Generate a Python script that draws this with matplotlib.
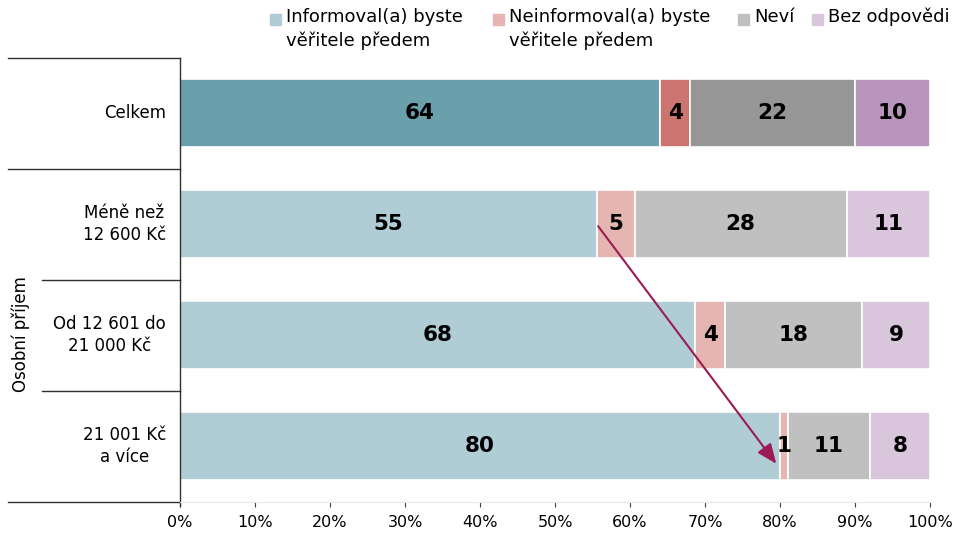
import matplotlib
matplotlib.use("Agg")
import matplotlib.pyplot as plt
import matplotlib.transforms as mtransforms
from matplotlib.patches import Rectangle
import numpy as np

plt.rcParams['font.family'] = ['DejaVu Sans']

categories = ["Celkem", "Méně než\n12 600 Kč", "Od 12 601 do\n21 000 Kč", "21 001 Kč\na více"]
series = ["Informoval(a) byste\nvěřitele předem", "Neinformoval(a) byste\nvěřitele předem", "Neví", "Bez odpovědi"]
informoval = [64, 55, 68, 80]
neinformoval = [4, 5, 4, 1]
nevi = [22, 28, 18, 11]
bez_odpovedi = [10, 11, 9, 8]
ticks = [0, 10, 20, 30, 40, 50, 60, 70, 80, 90, 100]
tick_labels = [f"{t}%" for t in ticks]
group_label = "Osobní příjem"

colors_total = ["#6A9FAC", "#CC7470", "#969696", "#B994BD"]
colors_light = ["#B0CDD5", "#E5B6B1", "#C0C0C0", "#D9C5DC"]

data = np.array([informoval, neinformoval, nevi, bez_odpovedi], dtype=float)  # series x rows
totals = data.sum(axis=0)
shares = data / totals * 100

W, H = 955, 533
fig = plt.figure(figsize=(W / 100, H / 100), dpi=100)
ax = fig.add_axes([180 / W, 1 - 501.5 / H, 750 / W, (501.5 - 57.5) / H])

y = np.arange(len(categories))
left = np.zeros(len(categories))
for si in range(len(series)):
    for ri in range(len(categories)):
        col = colors_total[si] if ri == 0 else colors_light[si]
        ax.barh(y[ri], shares[si, ri], left=left[ri], height=0.615, color=col,
                edgecolor="white", linewidth=1.2)
        ax.text(left[ri] + shares[si, ri] / 2, y[ri], f"{int(data[si, ri])}",
                ha="center", va="center", fontsize=15.5, fontweight="bold", color="black")
    left += shares[si]

ax.set_xlim(0, 100)
ax.set_ylim(len(categories) - 0.5, -0.5)
ax.set_xticks(ticks)
ax.set_xticklabels(tick_labels, fontsize=11.5)
ax.set_yticks([])
ax.tick_params(axis="x", direction="out", length=3.5, color="#404040", pad=6)
for s in ["top", "right", "left"]:
    ax.spines[s].set_visible(False)
ax.spines["bottom"].set_color("#E8E8E8")

# left axis line
trans = mtransforms.blended_transform_factory(ax.transAxes, ax.transData)
ax.plot([0, 0], [-0.5, 3.5 + 0.04], color="#303030", lw=1.0, transform=trans, clip_on=False)

# separator lines
x_far = (8 - 180) / 750
x_near = (42 - 180) / 750
for yy, x0 in [(-0.5, x_far), (0.5, x_far), (1.5, x_near), (2.5, x_near), (3.5, x_far)]:
    ax.plot([x0, 0], [yy, yy], color="#303030", lw=1.0, transform=trans, clip_on=False)

# category labels
for ri, cat in enumerate(categories):
    ax.text(-14 / 750, y[ri], cat, transform=trans, ha="right", va="center",
            multialignment="center", fontsize=12, linespacing=1.35)

fig.text(21 / W, 1 - 334 / H, group_label, rotation=90, ha="center", va="center", fontsize=12)

# arrow
x_start = shares[0, 1] + 0.2
x_end = shares[0, 3] - 0.5
ax.annotate("", xy=(x_end, 3.16), xytext=(x_start, 1.02),
            arrowprops=dict(arrowstyle="-|>,head_length=1.2,head_width=0.5",
                            color="#9B1B55", lw=1.5, shrinkA=0, shrinkB=0))

# legend (manual)
leg_x = [270, 493, 738, 812]
for i, name in enumerate(series):
    fig.patches.append(Rectangle((leg_x[i] / W, 1 - 25 / H), 11 / W, 11 / H,
                                 transform=fig.transFigure, color=colors_light[i]))
    fig.text((leg_x[i] + 16) / W, 1 - 8 / H, name, ha="left", va="top", fontsize=13,
             linespacing=1.4)

fig.savefig("out.png", dpi=100)
